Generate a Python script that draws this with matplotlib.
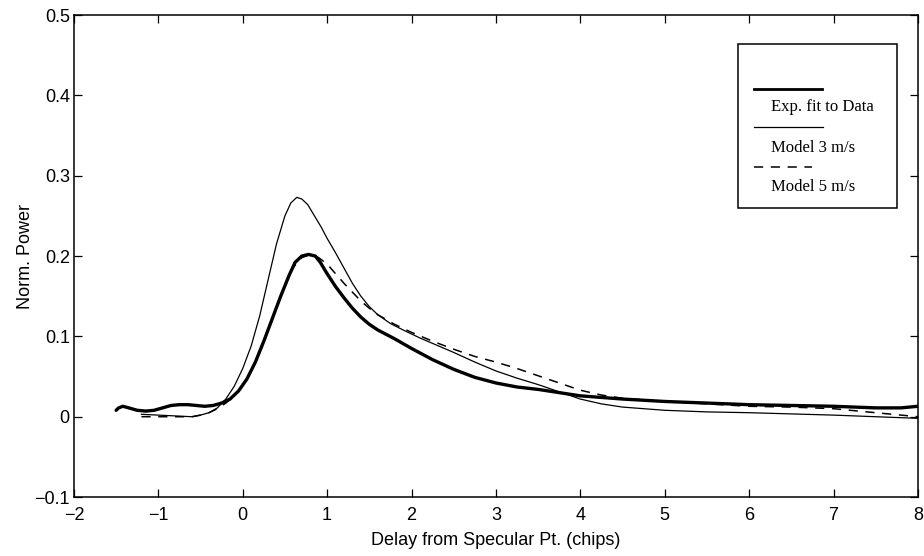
import matplotlib
matplotlib.use("Agg")
import matplotlib.pyplot as plt
from matplotlib.patches import Rectangle

plt.rcParams.update({
    "font.family": ["Liberation Sans", "DejaVu Sans"],
    "font.size": 13,
})

# Exp. fit to data (thick)
fit_x = [-1.5, -1.47, -1.42, -1.35, -1.25, -1.15, -1.05, -0.95, -0.85, -0.75, -0.65, -0.55, -0.45, -0.35,
         -0.25, -0.15, -0.05, 0.05, 0.15, 0.25, 0.35, 0.45, 0.55, 0.62, 0.7, 0.78, 0.86, 0.92, 1.0,
         1.1, 1.2, 1.3, 1.4, 1.5, 1.6, 1.8, 2.0, 2.25, 2.5, 2.75, 3.0, 3.25, 3.5, 3.75, 4.0,
         4.5, 5.0, 5.5, 6.0, 6.5, 7.0, 7.5, 7.8, 8.0]
fit_y = [0.008, 0.011, 0.013, 0.011, 0.008, 0.007, 0.008, 0.011, 0.014, 0.015, 0.015, 0.014, 0.013, 0.014,
         0.017, 0.022, 0.032, 0.047, 0.068, 0.094, 0.122, 0.150, 0.176, 0.192, 0.200, 0.202, 0.200, 0.192, 0.178,
         0.162, 0.148, 0.135, 0.124, 0.115, 0.108, 0.097, 0.085, 0.071, 0.059, 0.049, 0.042, 0.037, 0.034, 0.030, 0.026,
         0.022, 0.019, 0.017, 0.015, 0.014, 0.013, 0.011, 0.011, 0.013]

# Model 3 m/s (thin)
m3_x = [-1.2, -1.0, -0.8, -0.6, -0.5, -0.4, -0.3, -0.2, -0.1, 0.0, 0.1, 0.2, 0.3, 0.4, 0.5,
        0.57, 0.64, 0.7, 0.77, 0.85, 0.93, 1.0, 1.1, 1.2, 1.3, 1.4, 1.5, 1.6, 1.75, 1.9, 2.1,
        2.3, 2.5, 2.75, 3.0, 3.25, 3.5, 3.75, 4.0, 4.25, 4.5, 5.0, 5.5, 6.0, 7.0, 8.0]
m3_y = [0.003, 0.002, 0.001, 0.000, 0.002, 0.005, 0.011, 0.022, 0.038, 0.060, 0.088, 0.125, 0.170, 0.215, 0.250,
        0.266, 0.273, 0.271, 0.264, 0.250, 0.236, 0.222, 0.204, 0.185, 0.166, 0.150, 0.137, 0.127, 0.116, 0.108, 0.098,
        0.089, 0.080, 0.068, 0.057, 0.048, 0.040, 0.031, 0.022, 0.016, 0.012, 0.008, 0.006, 0.005, 0.002, -0.002]

# Model 5 m/s (dashed)
m5_x = [-1.2, -1.0, -0.8, -0.6, -0.5, -0.4, -0.3, -0.2, -0.1, 0.0, 0.1, 0.2, 0.3, 0.4, 0.5,
        0.6, 0.7, 0.8, 0.9, 1.0, 1.1, 1.2, 1.3, 1.4, 1.5, 1.6, 1.8, 2.0, 2.25, 2.5, 2.75, 3.0,
        3.25, 3.5, 3.75, 4.0, 4.25, 4.5, 5.0, 5.5, 6.0, 6.5, 7.0, 7.5, 8.0]
m5_y = [0.000, 0.000, 0.000, 0.000, 0.002, 0.005, 0.010, 0.017, 0.026, 0.039, 0.056, 0.081, 0.108, 0.136, 0.163,
        0.186, 0.198, 0.202, 0.198, 0.190, 0.178, 0.166, 0.155, 0.144, 0.135, 0.127, 0.115, 0.105, 0.094, 0.084, 0.075, 0.068,
        0.060, 0.051, 0.042, 0.033, 0.027, 0.023, 0.019, 0.016, 0.013, 0.012, 0.010, 0.005, 0.000]

x_ticks = [-2, -1, 0, 1, 2, 3, 4, 5, 6, 7, 8]
y_ticks = [-0.1, 0, 0.1, 0.2, 0.3, 0.4, 0.5]
legend_labels = ["Exp. fit to Data", "Model 3 m/s", "Model 5 m/s"]

fig = plt.figure(figsize=(9.24, 5.56), dpi=100)
ax = fig.add_axes([0.080, 0.106, 0.9134, 0.867])

dash = (0, (6, 5))
ax.plot(m5_x, m5_y, color="black", linewidth=1.1, linestyle=dash)
ax.plot(m3_x, m3_y, color="black", linewidth=0.9)
ax.plot(fit_x, fit_y, color="black", linewidth=2.4, solid_capstyle="round")

ax.set_xlim(-2, 8)
ax.set_ylim(-0.1, 0.5)
ax.set_xticks(x_ticks)
ax.set_yticks(y_ticks)
ax.set_xticklabels([str(t).replace("-", "\u2212") for t in x_ticks])
ax.set_yticklabels(["\u22120.1", "0", "0.1", "0.2", "0.3", "0.4", "0.5"])
ax.tick_params(direction="in", top=True, right=True, length=6, width=0.9)
ax.tick_params(axis="x", pad=7)
ax.tick_params(axis="y", pad=3)
for s in ax.spines.values():
    s.set_linewidth(1.1)
ax.set_xlabel("Delay from Specular Pt. (chips)", labelpad=6)
ax.set_ylabel("Norm. Power", labelpad=0)

# hand-drawn style legend: line above its label
serif = ["Liberation Serif", "DejaVu Serif"]
ax.add_patch(Rectangle((0.787, 0.600), 0.188, 0.340, transform=ax.transAxes,
                       fill=False, edgecolor="black", linewidth=1.1, zorder=5))
line_y = [0.846, 0.768, 0.685]
text_y = [0.810, 0.725, 0.644]
line_x1 = [0.886, 0.888, 0.874]
styles = [dict(linewidth=2.0), dict(linewidth=0.9), dict(linewidth=1.1, linestyle=dash)]
for ly, ty, x1, lab, st in zip(line_y, text_y, line_x1, legend_labels, styles):
    ax.plot([0.806, x1], [ly, ly], transform=ax.transAxes, color="black", zorder=6, **st)
    ax.text(0.826, ty, lab, transform=ax.transAxes, ha="left", va="center",
            fontsize=12, family=serif, zorder=6)

fig.savefig("out.png", dpi=100, facecolor="white")
